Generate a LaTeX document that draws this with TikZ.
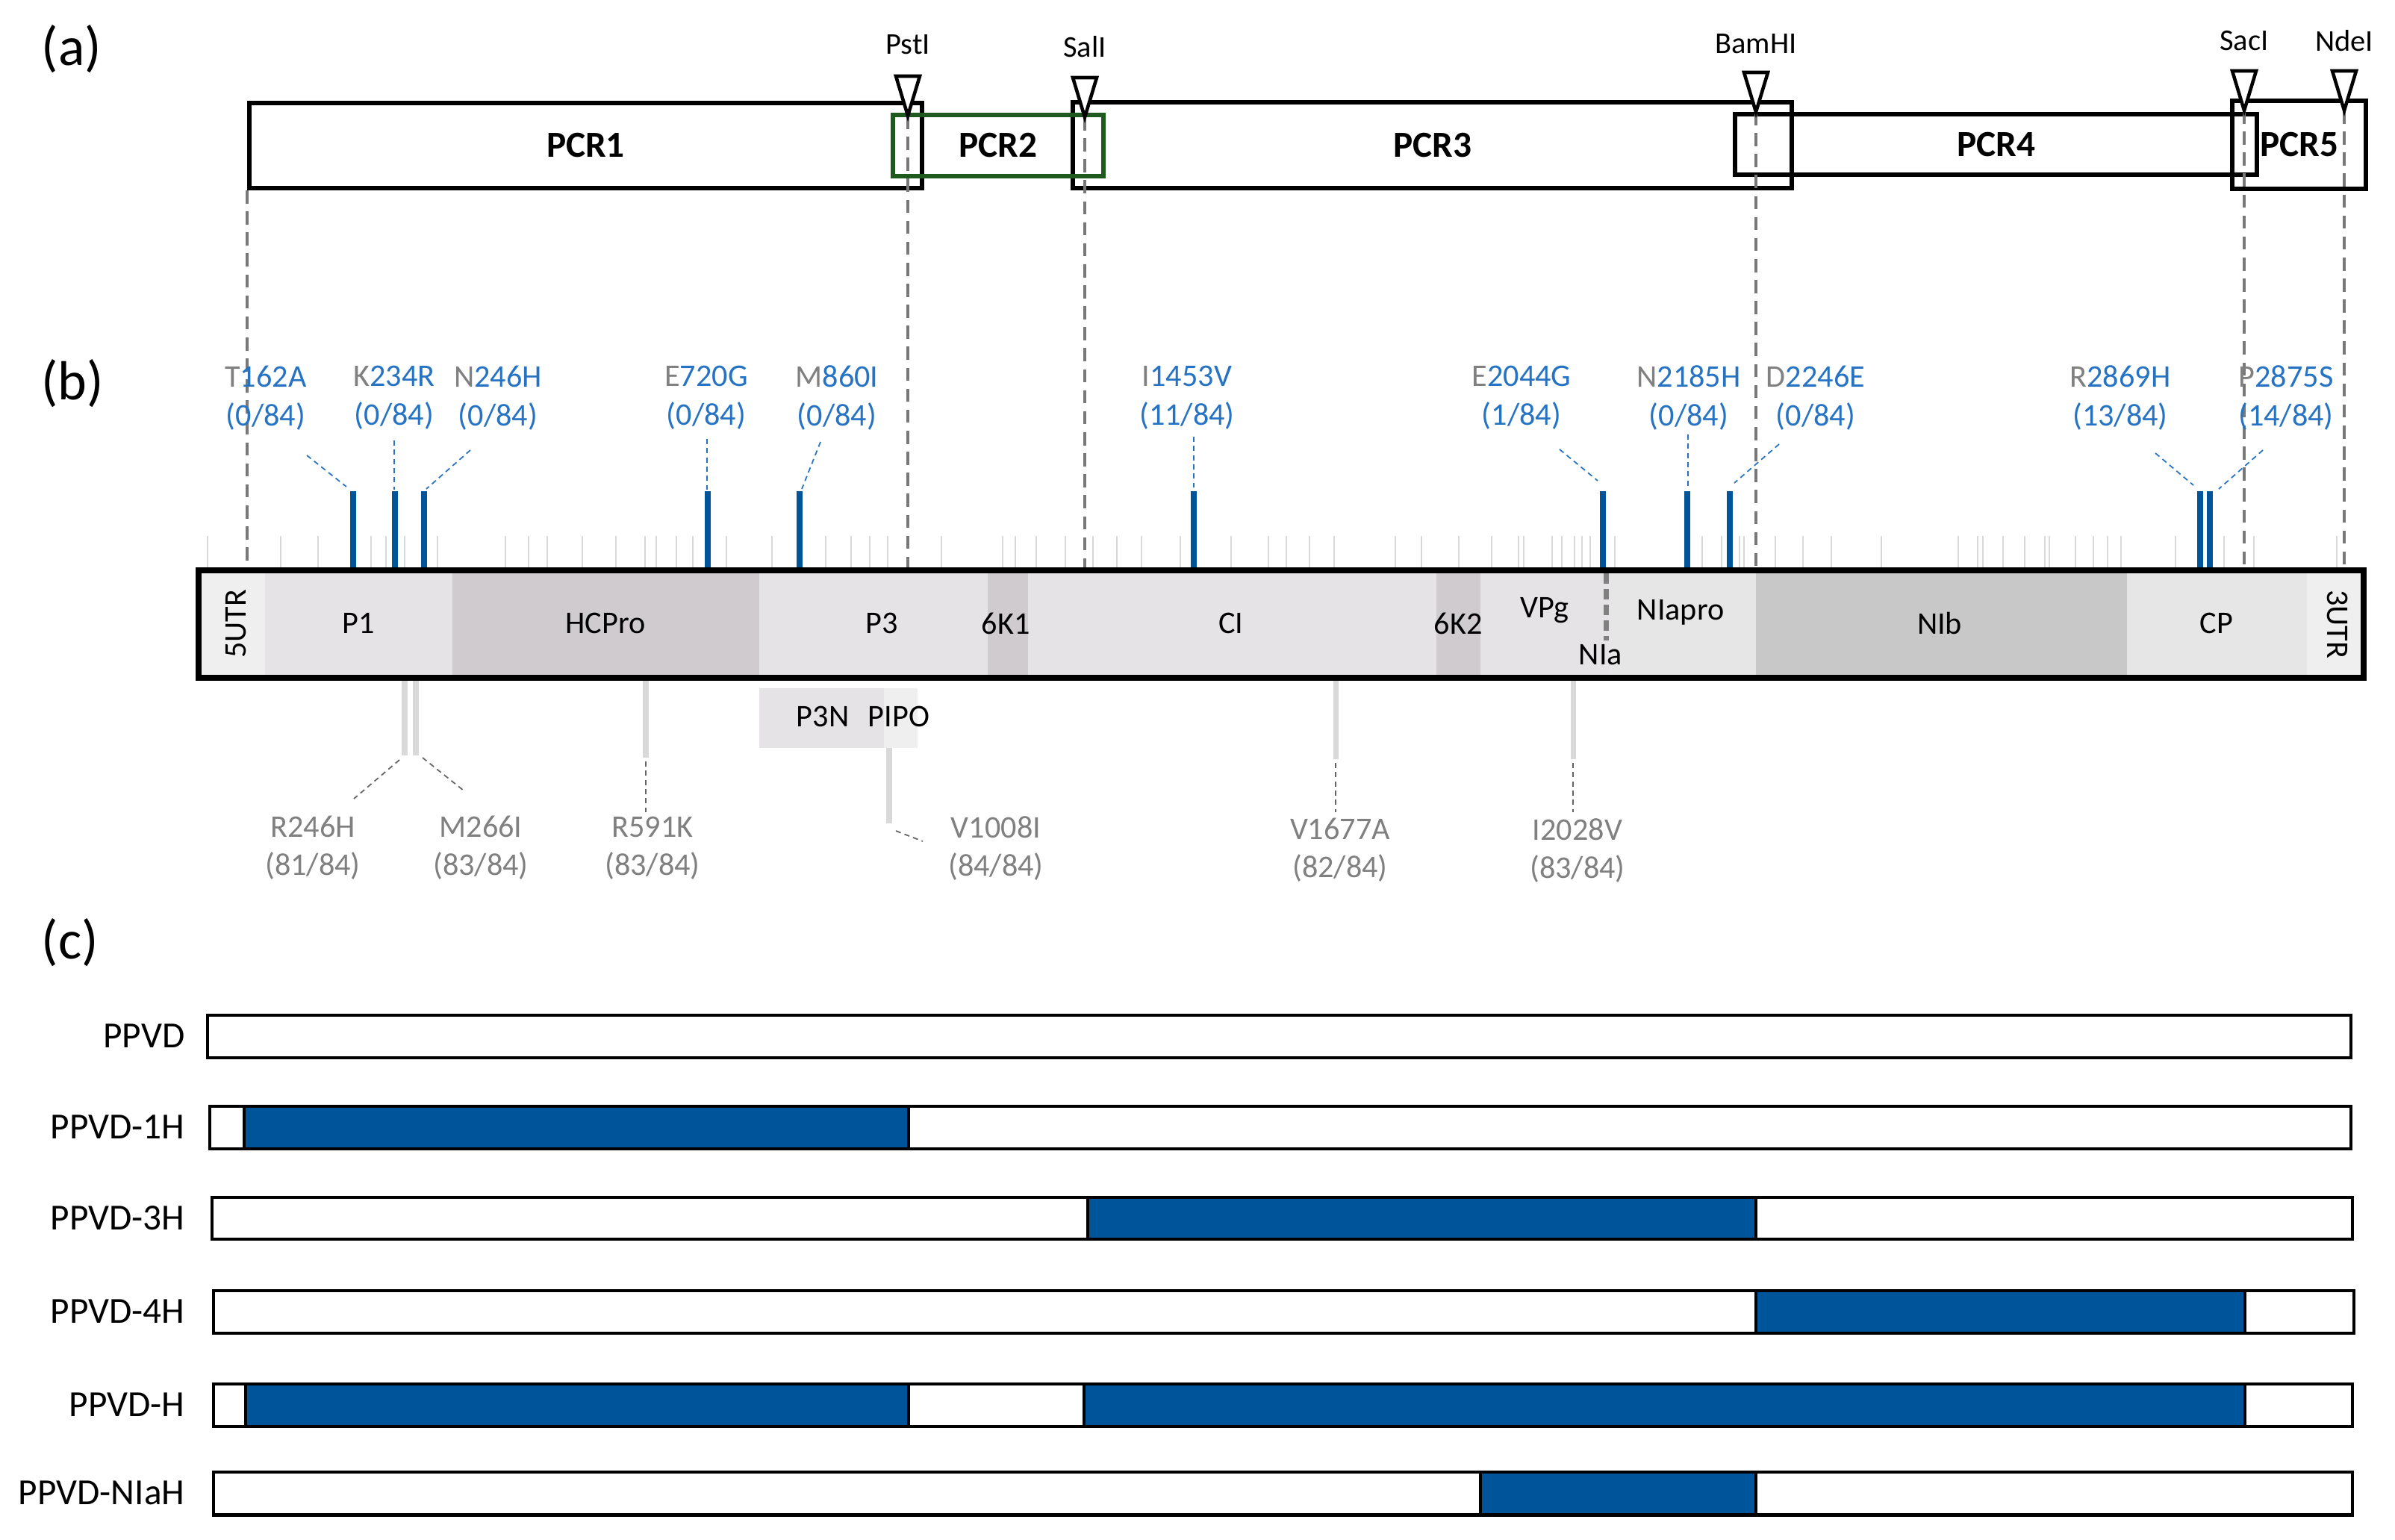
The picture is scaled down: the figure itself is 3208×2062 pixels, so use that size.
\documentclass[tikz,border=0pt]{standalone}
\usepackage{fontspec}
\setmainfont{Carlito}
\usepackage{tikz}
\definecolor{mblue}{RGB}{0,84,153}
\definecolor{tblue}{RGB}{38,115,196}
\definecolor{tgray}{RGB}{128,128,128}
\definecolor{dkgray}{RGB}{100,100,100}
\definecolor{cutgray}{RGB}{120,120,120}
\definecolor{ltgray}{RGB}{217,217,217}
\definecolor{pcrgreen}{RGB}{30,90,30}
\definecolor{utr}{RGB}{239,239,239}
\definecolor{segA}{RGB}{230,227,230}
\definecolor{segB}{RGB}{207,203,207}
\definecolor{segD}{RGB}{230,230,230}
\definecolor{segE}{RGB}{200,200,200}
\tikzstyle{panel} = [font=\fontsize{21}{25}\selectfont]
\tikzstyle{pcr} = [draw=black, line width=1.7pt, inner sep=0pt, font=\fontsize{14}{17}\selectfont\bfseries]
\tikzstyle{pcrtwo} = [pcr, draw=pcrgreen]
\tikzstyle{site} = [draw=black, fill=white, line width=1.3pt]
\tikzstyle{sitelab} = [font=\fontsize{11.5}{14}\selectfont]
\tikzstyle{cutline} = [draw=cutgray, line width=1.1pt, dash pattern=on 5pt off 3pt]
\tikzstyle{seg} = [font=\fontsize{12}{14}\selectfont]
\tikzstyle{mut} = [font=\fontsize{12}{14.8}\selectfont, text=tblue, align=center]
\tikzstyle{syn} = [font=\fontsize{12}{14.5}\selectfont, text=tgray, align=center]
\tikzstyle{hit} = [draw=mblue, line width=2.5pt]
\tikzstyle{cons} = [draw=ltgray, line width=0.8pt]
\tikzstyle{fixbar} = [draw=ltgray, line width=2pt]
\tikzstyle{lead} = [draw=tblue, line width=0.5pt, dash pattern=on 2pt off 1.5pt]
\tikzstyle{glead} = [draw=dkgray, line width=0.5pt, dash pattern=on 2pt off 1.5pt]
\tikzstyle{clone} = [draw=black, fill=white, line width=1.4pt]
\tikzstyle{hsub} = [draw=black, fill=mblue, line width=1.4pt]
\tikzstyle{clonelab} = [font=\fontsize{14}{17}\selectfont, anchor=east, inner sep=0pt]

\begin{document}
\begin{tikzpicture}[x=0.01cm,y=-0.01cm]
    \useasboundingbox (0,0) rectangle (3208,2062);
    % (a) PCR fragments and restriction sites
    \node[panel] (pa) at (96,66) {(a)};
    \node[pcr, minimum width=9.01cm, minimum height=1.14cm] (pcr1) at (784.5,195) {PCR1};
    \node[pcr, minimum width=9.63cm, minimum height=1.15cm] (pcr3) at (1918.5,194.5) {PCR3};
    \node[pcr, minimum width=1.79cm, minimum height=1.18cm] (pcr5) at (3079.5,194) {PCR5};
    \node[pcr, minimum width=6.99cm, minimum height=0.81cm] (pcr4) at (2673.5,193.5) {PCR4};
    \node[pcrtwo, minimum width=2.82cm, minimum height=0.82cm] (pcr2) at (1337,195) {PCR2};
    \coordinate (gtop) at (0,760);
    \coordinate (start) at (pcr1.south west);
    \draw[cutline] (start) -- (start |- gtop);
    \foreach \n/\s/\x/\t/\ly in {pst/PstI/1216/155/60, sal/SalI/1453/157/63, bam/BamHI/2352/150/59, sac/SacI/3006/148/55, nde/NdeI/3140/148/55} {
        \coordinate (\n) at (\x,\t);
        \draw[cutline] (\n) -- (\n |- gtop);
        \draw[site] (\n) ++(-16,-53) -- ++(32,0) -- (\n) -- cycle;
        \node[sitelab] (\n-lab) at (\x,\ly) {\s};
    }

    % (b) genome map
    \node[panel] (pb) at (97,514) {(b)};
    \foreach \x in {278,376,426,497,517,542,586,677,708,733,780,825,864,879,906,928,973,1034,1106,1140,1165,1189,1261,1343,1360,1388,1427,1464,1496,1529,1581,1649,1699,1723,1754,1787,1869,1904,1954,1998,2034,2041,2079,2092,2109,2119,2130,2163,2280,2306,2330,2336,2378,2415,2453,2520,2623,2649,2656,2683,2712,2739,2745,2780,2804,2823,2841,2914,2979,3019,3130}
        \draw[cons] (\x,718) -- (\x,760);
    \foreach \n/\a/\b/\c/\lx/\hx/\sx/\sy/\ex/\ey in {
        t162a/T/162A/0/356/473/411/610/464/652,
        k234r/K/234R/0/528/529/528/590/528/656,
        n246h/N/246H/0/667/568/630/603/571/655,
        e720g/E/720G/0/946/948/947/588/947/656,
        m860i/M/860I/0/1121/1071/1099/592/1074/655,
        i1453v/I/1453V/11/1590/1599/1599/585/1599/653,
        e2044g/E/2044G/1/2038/2147/2089/602/2140/644,
        n2185h/N/2185H/0/2262/2260/2261/582/2261/653,
        d2246e/D/2246E/0/2432/2317/2383/595/2323/647,
        r2869h/R/2869H/13/2840/2947/2887/607/2938/650,
        p2875s/P/2875S/14/3062/2960/3031/603/2972/655} {
        \node[mut] (\n) at (\lx,533) {{\color{tgray}\a}\b\\(\c/84)};
        \coordinate (\n-hit) at (\hx,658);
        \draw[hit] (\n-hit) -- (\n-hit |- gtop);
        \coordinate (\n-a) at (\sx,\sy);
        \coordinate (\n-b) at (\ex,\ey);
        \draw[lead] (\n-a) -- (\n-b);
    }
    \fill[utr] (267,764) rectangle (355,908);
    \fill[segA] (355,764) rectangle (606,908);
    \fill[segB] (606,764) rectangle (1017,908);
    \fill[segA] (1017,764) rectangle (1323,908);
    \fill[segB] (1323,764) rectangle (1377,908);
    \fill[segA] (1377,764) rectangle (1924,908);
    \fill[segB] (1924,764) rectangle (1983,908);
    \fill[segA] (1983,764) rectangle (2155,908);
    \fill[segD] (2155,764) rectangle (2352,908);
    \fill[segE] (2352,764) rectangle (2849,908);
    \fill[segD] (2849,764) rectangle (3090,908);
    \fill[utr] (3090,764) rectangle (3165,908);
    \draw[draw=tgray, line width=2pt, dash pattern=on 4pt off 2pt] (2151,768) -- (2151,858);
    \node[draw, line width=2.28pt, minimum width=28.98cm, minimum height=1.44cm, inner sep=0pt] (genome) at (1716,836) {};
    \node[seg, rotate=90] (utr5) at (316,836) {5UTR};
    \node[seg] (p1) at (480,835) {P1};
    \node[seg] (hcpro) at (811,835) {HCPro};
    \node[seg] (p3) at (1181,835) {P3};
    \node[seg] (k61) at (1347,835) {6K1};
    \node[seg] (ci) at (1649,835) {CI};
    \node[seg] (k62) at (1953,835) {6K2};
    \node[seg] (vpg) at (2069,818) {VPg};
    \node[seg] (nia) at (2144,877) {NIa};
    \node[seg] (niapro) at (2251,820) {NIapro};
    \node[seg] (nib) at (2598,835) {NIb};
    \node[seg] (cp) at (2969,835) {CP};
    \node[seg, rotate=-90] (utr3) at (3131,836) {3UTR};
    \fill[segA] (1017,922) rectangle (1184,1002);
    \fill[utr] (1184,922) rectangle (1229,1002);
    \node[seg] (p3n) at (1102,960) {P3N};
    \node[seg] (pipo) at (1204,960) {PIPO};
    % conserved changes below the map
    \draw[fixbar] (542,912) -- (542,1012);
    \draw[fixbar] (557,912) -- (557,1012);
    \draw[fixbar] (865,912) -- (865,1015);
    \draw[fixbar] (1191,1002) -- (1191,1103);
    \draw[fixbar] (1789,912) -- (1789,1017);
    \draw[fixbar] (2107,912) -- (2107,1017);
    \node[syn] (r246h) at (419,1136) {R246H\\(81/84)};
    \node[syn] (m266i) at (644,1136) {M266I\\(83/84)};
    \node[syn] (r591k) at (874,1136) {R591K\\(83/84)};
    \node[syn] (v1008i) at (1334,1136) {V1008I\\(84/84)};
    \node[syn] (v1677a) at (1795,1139) {V1677A\\(82/84)};
    \node[syn] (i2028v) at (2113,1139) {I2028V\\(83/84)};
    \foreach \n/\sx/\sy/\ex/\ey in {r246h/535/1018/474/1070, m266i/566/1015/621/1059, r591k/865/1020/865/1088, v1008i/1200/1113/1236/1127, v1677a/1789/1022/1789/1088, i2028v/2107/1022/2107/1088} {
        \coordinate (\n-a) at (\sx,\sy);
        \coordinate (\n-b) at (\ex,\ey);
        \draw[glead] (\n-a) -- (\n-b);
    }

    % (c) chimeric clones
    \node[panel] (pc) at (94,1263) {(c)};
    \draw[clone] (278,1360) rectangle (3149,1417);
    \node[clonelab] (ppvd) at (248,1388) {PPVD};
    \draw[clone] (281,1482) rectangle (3149,1539);
    \draw[hsub] (327,1482) rectangle (1217,1539);
    \node[clonelab] (ppvd1h) at (248,1510) {PPVD-1H};
    \draw[clone] (284,1604) rectangle (3151,1660);
    \draw[hsub] (1457,1604) rectangle (2352,1660);
    \node[clonelab] (ppvd3h) at (248,1632) {PPVD-3H};
    \draw[clone] (286,1729) rectangle (3153,1786);
    \draw[hsub] (2352,1729) rectangle (3007,1786);
    \node[clonelab] (ppvd4h) at (248,1757) {PPVD-4H};
    \draw[clone] (286,1854) rectangle (3151,1911);
    \draw[hsub] (329,1854) rectangle (1217,1911);
    \draw[hsub] (1452,1854) rectangle (3007,1911);
    \node[clonelab] (ppvdh) at (248,1882) {PPVD-H};
    \draw[clone] (286,1972) rectangle (3151,2029);
    \draw[hsub] (1983,1972) rectangle (2352,2029);
    \node[clonelab] (ppvdniah) at (248,2000) {PPVD-NIaH};
\end{tikzpicture}
\end{document}
